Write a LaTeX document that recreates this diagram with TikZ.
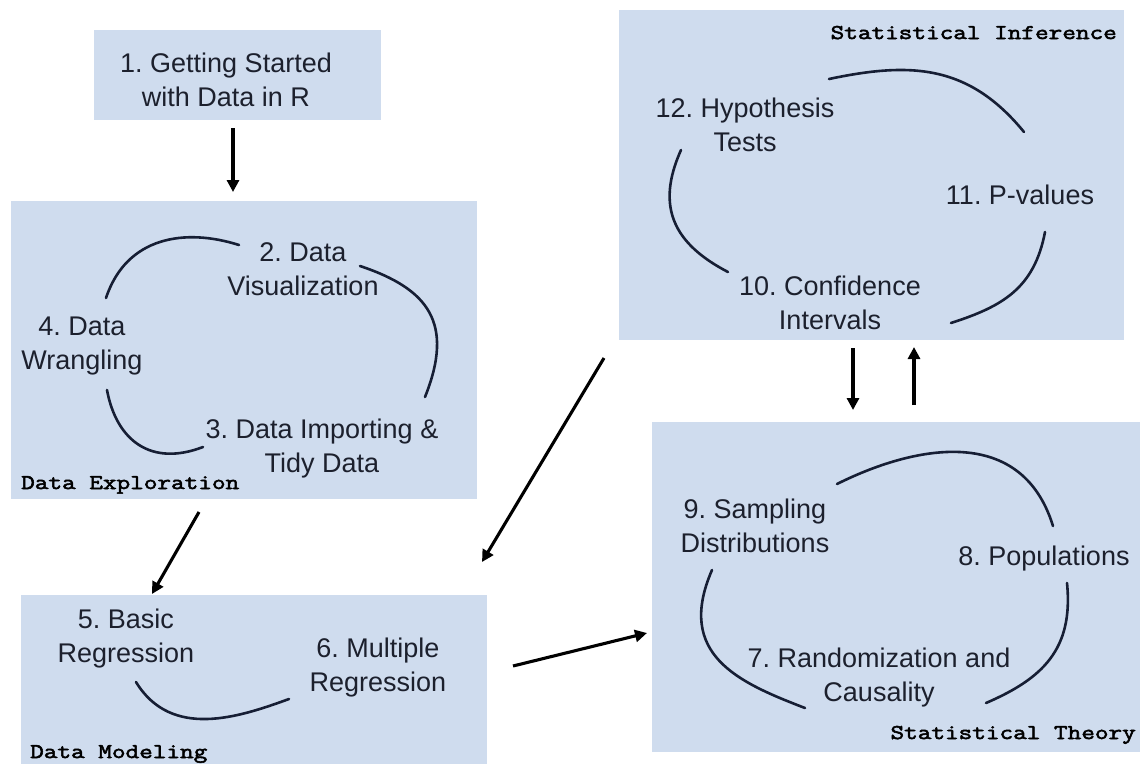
\documentclass[tikz,border=0pt]{standalone}
\usepackage{fontspec}
\setmainfont{Liberation Sans}
\newfontfamily\grpfont{Latin Modern Mono}[FakeBold=2.6,FakeStretch=1.26]
\usetikzlibrary{arrows.meta}
\definecolor{boxfill}{RGB}{207,220,238}
\definecolor{arccol}{RGB}{22,30,52}
\definecolor{txtcol}{RGB}{28,32,45}
\frenchspacing
\begin{document}
\begin{tikzpicture}[x=1pt,y=-1pt,
  box/.style={fill=boxfill, draw=none, inner sep=0pt, anchor=north west},
  lbl/.style={font=\fontsize{27}{34}\selectfont, text=txtcol, align=center, inner sep=0pt, anchor=north},
  lblone/.style={font=\fontsize{27}{34}\selectfont, text=txtcol, inner sep=0pt, anchor=base},
  grp/.style={font=\fontsize{21}{24}\selectfont\grpfont, text=black, inner sep=0pt},
  arcline/.style={draw=arccol, line width=2.6pt, line cap=round},
  flow/.style={draw=black, line width=3.1pt, -{Triangle[length=12pt,width=12pt]}}
]
\useasboundingbox (0,0) rectangle (1148,764);
\fill[white] (0,0) rectangle (1148,764);

% boxes
\node[box, minimum width=287pt, minimum height=90pt]  (b1) at (94,30) {};
\node[box, minimum width=466pt, minimum height=298pt] (b2) at (11,201) {};
\node[box, minimum width=466pt, minimum height=169pt] (b3) at (21,595) {};
\node[box, minimum width=505pt, minimum height=330pt] (b4) at (619,10) {};
\node[box, minimum width=488pt, minimum height=330pt] (b5) at (652,422) {};

% texts
\node[lbl] (t1) at (226,52.5) {1. Getting Started\\with Data in R};
\node[lbl] (t2) at (303,242.5) {2. Data\\Visualization};
\node[lbl] (t4) at (82,316.5) {4. Data\\Wrangling};
\node[lbl] (t3) at (322,418.5) {3. Data Importing \&\\Tidy Data};
\node[lbl] (t5) at (126,608.5) {5. Basic\\Regression};
\node[lbl] (t6) at (378,637.5) {6. Multiple\\Regression};
\node[lbl] (t12) at (745,97.5) {12. Hypothesis\\Tests};
\node[lblone] (t11) at (1020,204) {11. P-values};
\node[lbl] (t10) at (830,275.5) {10. Confidence\\Intervals};
\node[lbl] (t9) at (755,498.5) {9. Sampling\\Distributions};
\node[lblone] (t8) at (1044,565) {8. Populations};
\node[lbl] (t7) at (879,647.5) {7. Randomization and\\Causality};

\node[grp, anchor=base west] (g1) at (21,489) {Data Exploration};
\node[grp, anchor=base west] (g2) at (30,758) {Data Modeling};
\node[grp, anchor=base east] (g3) at (1117,39) {Statistical Inference};
\node[grp, anchor=base east] (g4) at (1136,739) {Statistical Theory};

% arcs: data exploration
\draw[arcline] (106,298) .. controls (126.5,236.3) and (185.2,227.9) .. (239,245);
\draw[arcline] (360,266) .. controls (428.3,288.8) and (454.7,322.8) .. (425,397);
\draw[arcline] (107,390) .. controls (116.4,440.5) and (150.9,467) .. (203,447);
% data modeling
\draw[arcline] (136,682) .. controls (171.3,739.8) and (239,717.2) .. (289,699);
% statistical inference
\draw[arcline] (829,79) .. controls (910,61.9) and (968.3,63.9) .. (1024,132);
\draw[arcline] (681,150) .. controls (655.2,207.4) and (674.2,244) .. (728,272);
\draw[arcline] (1045,232) .. controls (1034.2,288.8) and (1001.8,306.6) .. (951,323);
% statistical theory
\draw[arcline] (837,484) .. controls (909.6,447.7) and (1020.4,421) .. (1053,526);
\draw[arcline] (712,570) .. controls (675.3,654.5) and (737.8,682.2) .. (805,708);
\draw[arcline] (1067,583) .. controls (1073.7,649.7) and (1042,678.8) .. (986,703);

% arrows
\coordinate (a1s) at (233,128); \coordinate (a1e) at (233,192);
\coordinate (a2s) at (199,512); \coordinate (a2e) at (152,594);
\coordinate (a3s) at (604,358); \coordinate (a3e) at (482,562);
\coordinate (a4s) at (513,666); \coordinate (a4e) at (647,633);
\coordinate (a5s) at (853,348); \coordinate (a5e) at (853,410);
\coordinate (a6s) at (914,405); \coordinate (a6e) at (914,347);
\draw[flow] (a1s) -- (a1e);
\draw[flow] (a2s) -- (a2e);
\draw[flow] (a3s) -- (a3e);
\draw[flow] (a4s) -- (a4e);
\draw[flow] (a5s) -- (a5e);
\draw[flow] (a6s) -- (a6e);
\end{tikzpicture}
\end{document}
